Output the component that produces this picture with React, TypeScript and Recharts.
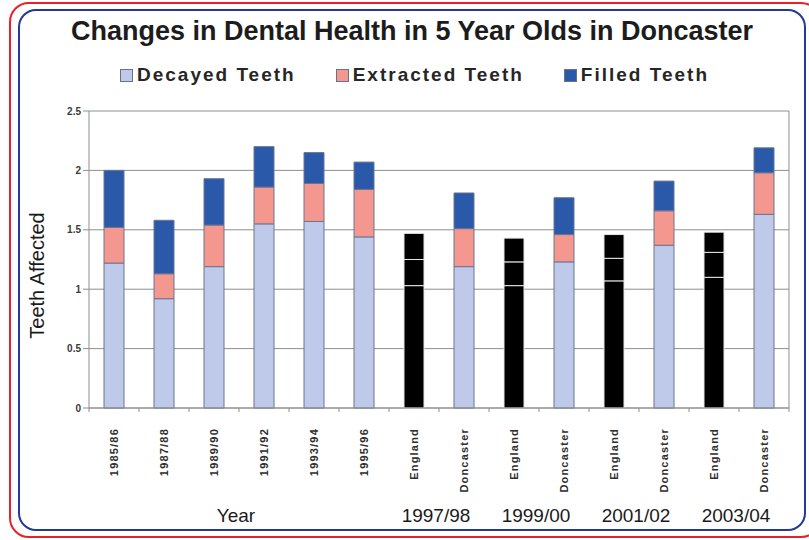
import React from "react";
import { BarChart, Bar, XAxis, YAxis, CartesianGrid, Cell, Label } from "recharts";

// Survey categories along the x axis
const categories = [
  "1985/86", "1987/88", "1989/90", "1991/92", "1993/94", "1995/96",
  "England", "Doncaster", "England", "Doncaster",
  "England", "Doncaster", "England", "Doncaster",
];

// Group caption drawn under each run of categories
const groups = [
  "Year", "Year", "Year", "Year", "Year", "Year",
  "1997/98", "1997/98", "1999/00", "1999/00",
  "2001/02", "2001/02", "2003/04", "2003/04",
];

// Mean teeth affected per child
const decayed = [1.22, 0.92, 1.19, 1.55, 1.57, 1.44, 1.03, 1.19, 1.03, 1.23, 1.07, 1.37, 1.1, 1.63];
const extracted = [0.3, 0.21, 0.35, 0.31, 0.32, 0.4, 0.22, 0.32, 0.2, 0.23, 0.19, 0.29, 0.21, 0.35];
const filled = [0.48, 0.45, 0.39, 0.34, 0.26, 0.23, 0.22, 0.3, 0.2, 0.31, 0.2, 0.25, 0.17, 0.21];

const yTicks = [0, 0.5, 1, 1.5, 2, 2.5];

const seriesKeys = ["decayed", "extracted", "filled"];
const seriesNames = ["Decayed Teeth", "Extracted Teeth", "Filled Teeth"];
const seriesColors = ["#bfcaea", "#f4978e", "#2b59a9"];

const NATIONAL = "England";

const rows = categories.map((label, i) => ({
  label,
  group: groups[i],
  decayed: decayed[i],
  extracted: extracted[i],
  filled: filled[i],
}));

const WIDTH = 809;
const HEIGHT = 540;
const MARGIN = { top: 111, right: 19, bottom: 12, left: 19 };
const Y_AXIS_W = 70;
const PLOT_W = WIDTH - MARGIN.left - MARGIN.right - Y_AXIS_W - 1;
const FONT = "'Liberation Sans', Arial, Helvetica, sans-serif";
const GRID = "#8f8f8f";

const CategoryTick = (props: any) => {
  const { x, y, payload, index } = props;
  const band = PLOT_W / rows.length;
  const row = rows[index];
  const first = index === 0 || rows[index - 1].group !== row.group;
  const span = rows.filter((r) => r.group === row.group).length;
  return (
    <g>
      {index === 0 && (
        <line x1={x - band / 2} x2={x - band / 2} y1={y} y2={y + 4} stroke={GRID} />
      )}
      <line x1={x + band / 2} x2={x + band / 2} y1={y} y2={y + 4} stroke={GRID} />
      <text
        transform={`translate(${x + 4},${y + 20}) rotate(-90)`}
        textAnchor="end"
        fontSize={11}
        fontWeight="bold"
        letterSpacing={1.2}
        fill="#2e2e2e"
        fontFamily={FONT}
      >
        {payload.value}
      </text>
      {first && (
        <text
          x={x + ((span - 1) * band) / 2 - 3}
          y={y + 114}
          textAnchor="middle"
          fontSize={19}
          fill="#1a1a1a"
          fontFamily={FONT}
        >
          {row.group}
        </text>
      )}
    </g>
  );
};

const AxisTitle = (props: any) => {
  const vb = props.viewBox || { x: 0, y: 0, width: 0, height: 0 };
  const cx = vb.x + 25;
  const cy = vb.y + vb.height / 2 + 16;
  return (
    <text
      transform={`translate(${cx},${cy}) rotate(-90)`}
      textAnchor="middle"
      fontSize={20}
      fill="#1a1a1a"
      fontFamily={FONT}
    >
      Teeth Affected
    </text>
  );
};

export default function App() {
  return (
    <div
      style={{
        position: "absolute",
        left: 0,
        top: 0,
        width: WIDTH,
        height: HEIGHT,
        overflow: "hidden",
        background: "#fff",
        fontFamily: FONT,
      }}
    >
      {/* double rounded frame */}
      <div
        style={{
          position: "absolute",
          left: 9,
          top: 2,
          width: 812,
          height: 536,
          boxSizing: "border-box",
          border: "2.5px solid #e8202a",
          borderRadius: 20,
        }}
      />
      <div
        style={{
          position: "absolute",
          left: 18,
          top: 9,
          width: 788,
          height: 522,
          boxSizing: "border-box",
          border: "2.5px solid #22399a",
          borderRadius: 18,
        }}
      />
      <svg
        width={WIDTH}
        height={60}
        style={{ position: "absolute", left: 0, top: 0 }}
      >
        <text
          x={412}
          y={40}
          textAnchor="middle"
          fontSize={27}
          fontWeight="bold"
          fill="#1c1c1c"
          fontFamily={FONT}
        >
          Changes in Dental Health in 5 Year Olds in Doncaster
        </text>
      </svg>
      <div
        style={{
          position: "absolute",
          left: 0,
          top: 65,
          width: WIDTH,
          height: 20,
          display: "flex",
          justifyContent: "center",
          alignItems: "center",
          paddingLeft: 20,
          boxSizing: "border-box",
        }}
      >
        {seriesNames.map((name, i) => (
          <div
            key={name}
            style={{ display: "flex", alignItems: "center", marginRight: i < seriesNames.length - 1 ? 40 : 0 }}
          >
            <span
              style={{
                display: "inline-block",
                width: 11,
                height: 11,
                background: seriesColors[i],
                border: "1px solid #6a7088",
                marginRight: 4,
              }}
            />
            <span
              style={{
                fontSize: 19,
                fontWeight: "bold",
                letterSpacing: 2,
                color: "#262626",
                lineHeight: "20px",
              }}
            >
              {name}
            </span>
          </div>
        ))}
      </div>
      <div style={{ position: "absolute", left: 0, top: 0 }}>
        <BarChart width={WIDTH} height={HEIGHT} data={rows} margin={MARGIN} barSize={20}>
          <CartesianGrid horizontal vertical={false} stroke={GRID} strokeWidth={1} />
          <XAxis
            dataKey="label"
            interval={0}
            tickLine={false}
            tickSize={0}
            tickMargin={0}
            height={120}
            axisLine={{ stroke: GRID }}
            tick={<CategoryTick />}
          />
          <YAxis
            domain={[0, 2.5]}
            ticks={yTicks}
            width={Y_AXIS_W}
            axisLine={{ stroke: GRID }}
            tickLine={{ stroke: GRID }}
            tickSize={6}
            tick={{ fontSize: 10, fontWeight: "bold", fill: "#3a3a3a", fontFamily: FONT }}
          >
            <Label content={<AxisTitle />} />
          </YAxis>
          <YAxis
            yAxisId="frame"
            orientation="right"
            domain={[0, 2.5]}
            ticks={yTicks}
            width={1}
            tick={false}
            tickLine={false}
            axisLine={{ stroke: GRID }}
          />
          {seriesKeys.map((key, s) => (
            <Bar
              key={key}
              dataKey={key}
              name={seriesNames[s]}
              stackId="teeth"
              fill={seriesColors[s]}
              isAnimationActive={false}
            >
              {rows.map((r, i) => (
                <Cell
                  key={i}
                  fill={r.label === NATIONAL ? "#000000" : seriesColors[s]}
                  stroke={r.label === NATIONAL ? "#e6e6e6" : "#6b7592"}
                  strokeWidth={1}
                />
              ))}
            </Bar>
          ))}
        </BarChart>
      </div>
    </div>
  );
}
